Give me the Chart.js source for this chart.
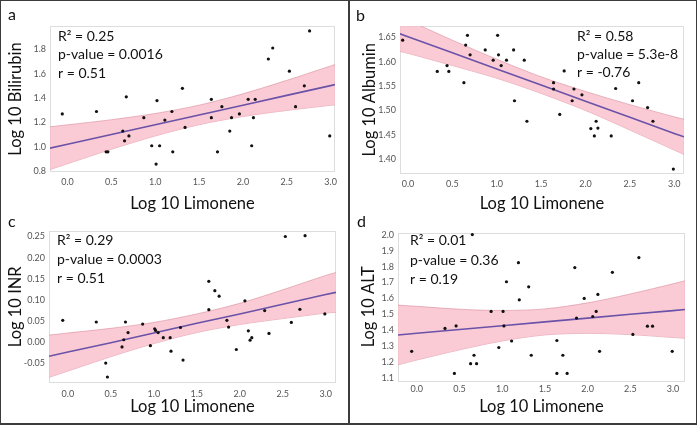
<!DOCTYPE html>
<html>
<head>
<meta charset="utf-8">
<script src="https://cdn.jsdelivr.net/npm/chart.js@4.4.0/dist/chart.umd.min.js"></script>
<style>
  body { margin: 0; background: #fff; }
  #figure { position: relative; width: 697px; height: 425px; overflow: hidden; background: #fff; }
  #figure canvas { position: absolute; }
  .divider { position: absolute; left: 348px; top: 0; width: 2px; height: 425px; background: #3c3c3c; }
  .frame { position: absolute; left: 0; top: 0; width: 697px; height: 425px; box-sizing: border-box;
           border: 1px solid #3c3c3c; border-bottom-width: 2px; }
</style>
</head>
<body>
<div id="figure">
  <canvas id="panelA" width="349" height="222" style="left:0;top:0"></canvas>
  <canvas id="panelB" width="348" height="222" style="left:349px;top:0"></canvas>
  <canvas id="panelC" width="349" height="213" style="left:0;top:212px"></canvas>
  <canvas id="panelD" width="348" height="213" style="left:349px;top:212px"></canvas>
  <div class="divider"></div>
  <div class="frame"></div>
</div>
<script>
// log10 limonene, shared by all four panels
const limonene = [-0.06, 0.33, 0.44, 0.46, 0.63, 0.65, 0.67, 0.70, 0.87, 0.96, 1.01, 1.02,
  1.05, 1.11, 1.19, 1.20, 1.31, 1.34, 1.64, 1.64, 1.71, 1.76, 1.85, 1.87,
  1.96, 2.06, 2.10, 2.12, 2.14, 2.29, 2.34, 2.53, 2.60, 2.70, 2.76, 2.99];

const bilirubin = [1.27, 1.29, 0.96, 0.96, 1.13, 1.05, 1.41, 1.09, 1.24, 1.01, 0.86, 1.38,
  1.01, 1.22, 1.29, 0.96, 1.48, 1.16, 1.39, 1.24, 0.96, 1.33, 1.13, 1.24,
  1.27, 1.39, 1.01, 1.24, 1.39, 1.72, 1.81, 1.62, 1.33, 1.50, 1.95, 1.09];

const albumin = [1.644, 1.580, 1.592, 1.580, 1.557, 1.634, 1.654, 1.614, 1.624, 1.603, 1.654, 1.614,
  1.592, 1.603, 1.624, 1.520, 1.603, 1.478, 1.557, 1.544, 1.492, 1.581, 1.520, 1.544,
  1.532, 1.463, 1.448, 1.478, 1.464, 1.448, 1.545, 1.520, 1.557, 1.506, 1.478, 1.380];

const inr = [0.052, 0.048, -0.049, -0.082, -0.011, 0.006, 0.048, 0.023, 0.043, -0.008, 0.032, 0.028,
  0.023, 0.011, 0.011, -0.021, 0.035, -0.042, 0.144, 0.077, 0.122, 0.109, 0.052, 0.036,
  -0.017, 0.098, 0.027, 0.005, 0.011, 0.075, 0.021, 0.250, 0.047, 0.078, 0.252, 0.067];

// one sample has no ALT value
const alt = [1.267, 1.411, 1.128, 1.427, 1.189, 2.002, 1.242, 1.189, 1.518, 1.291, 1.518, 1.427,
  1.705, 1.332, 1.825, 1.591, 1.673, 1.242, 1.335, 1.128, 1.242, 1.128, 1.794, 1.476,
  1.600, 1.486, 1.518, 1.625, 1.267, 1.764, null, 1.373, 1.857, 1.425, 1.425, 1.267];

// regression line and confidence band
const biliFitX = [-0.20, 0, 0.5, 1.0, 1.5, 2.0, 2.5, 3.0, 3.05];
const biliFit  = [0.990, 1.022, 1.102, 1.182, 1.262, 1.342, 1.422, 1.502, 1.510];
const biliHigh = [1.165, 1.181, 1.223, 1.274, 1.342, 1.435, 1.545, 1.663, 1.675];
const biliLow  = [0.815, 0.863, 0.981, 1.090, 1.182, 1.249, 1.299, 1.341, 1.345];

const albFitX = [-0.09, 0, 0.5, 1.0, 1.5, 2.0, 2.5, 3.0, 3.11];
const albFit  = [1.657, 1.651, 1.618, 1.585, 1.552, 1.519, 1.486, 1.453, 1.446];
const albHigh = [1.693, 1.685, 1.644, 1.605, 1.569, 1.539, 1.512, 1.487, 1.482];
const albLow  = [1.621, 1.617, 1.592, 1.566, 1.535, 1.500, 1.460, 1.419, 1.410];

const inrFitX = [-0.22, 0, 0.5, 1.0, 1.5, 2.0, 2.5, 3.0, 3.12];
const inrFit  = [-0.033, -0.023, -0.001, 0.022, 0.045, 0.067, 0.090, 0.113, 0.118];
const inrHigh = [0.017, 0.022, 0.033, 0.047, 0.067, 0.092, 0.124, 0.158, 0.165];
const inrLow  = [-0.083, -0.068, -0.034, -0.003, 0.023, 0.042, 0.056, 0.069, 0.071];

const altFitX = [-0.22, 0, 0.5, 1.0, 1.5, 2.0, 2.5, 3.0, 3.14];
const altFit  = [1.370, 1.381, 1.404, 1.428, 1.452, 1.476, 1.500, 1.523, 1.530];
const altHigh = [1.558, 1.550, 1.532, 1.524, 1.534, 1.572, 1.628, 1.692, 1.711];
const altLow  = [1.182, 1.212, 1.276, 1.332, 1.370, 1.380, 1.372, 1.354, 1.349];

// tick labels
const xTicks = [0, 0.5, 1.0, 1.5, 2.0, 2.5, 3.0];
const biliTicks = [0.8, 1.0, 1.2, 1.4, 1.6, 1.8];
const albTicks = [1.40, 1.45, 1.50, 1.55, 1.60, 1.65];
const inrTicks = [-0.05, 0.00, 0.05, 0.10, 0.15, 0.20, 0.25];
const altTicks = [1.1, 1.2, 1.3, 1.4, 1.5, 1.6, 1.7, 1.8, 1.9, 2.0];

const FONT = 'Lato, "Open Sans", sans-serif';

const panelDecor = {
    id: 'panelDecor',
    beforeDatasetsDraw(chart) {
        const { ctx, chartArea: a } = chart;
        ctx.save();
        ctx.strokeStyle = '#dddddd';
        ctx.lineWidth = 1;
        ctx.strokeRect(Math.round(a.left) + 0.5, Math.round(a.top) + 0.5,
            Math.round(a.width) - 1, Math.round(a.height) - 1);
        ctx.restore();
    },
    afterDraw(chart) {
        const p = chart.config.options.panel;
        const ctx = chart.ctx;
        ctx.save();
        ctx.fillStyle = '#111';
        ctx.textBaseline = 'alphabetic';
        ctx.font = `16px ${FONT}`;
        ctx.fillText(p.letter, p.letterX, p.letterY);
        ctx.font = `14px ${FONT}`;
        p.stats.forEach((line, i) => ctx.fillText(line, p.statsX, p.statsY[i]));
        ctx.restore();
    }
};

function toPoints(xs, ys) {
    return xs.map((x, i) => ({ x, y: ys[i] })).filter(d => d.y !== null);
}

function makePanel(id, p) {
    const bandLine = 'rgba(214, 140, 156, 0.75)';
    return new Chart(document.getElementById(id), {
        type: 'scatter',
        data: {
            datasets: [
                {
                    data: toPoints(limonene, p.y),
                    pointRadius: 1.6,
                    pointBackgroundColor: '#111',
                    pointBorderWidth: 0
                },
                {
                    data: toPoints(p.fitX, p.fit),
                    showLine: true,
                    borderColor: '#6a52a8',
                    borderWidth: 1.6,
                    pointRadius: 0
                },
                {
                    data: toPoints(p.fitX, p.high),
                    showLine: true,
                    tension: 0.3,
                    borderColor: bandLine,
                    borderWidth: 0.8,
                    pointRadius: 0,
                    backgroundColor: 'rgba(250, 188, 201, 0.78)',
                    fill: '+1'
                },
                {
                    data: toPoints(p.fitX, p.low),
                    showLine: true,
                    tension: 0.3,
                    borderColor: bandLine,
                    borderWidth: 0.8,
                    pointRadius: 0
                }
            ]
        },
        options: {
            responsive: false,
            animation: false,
            devicePixelRatio: 1,
            events: [],
            panel: p,
            layout: { padding: { left: 0, bottom: 0, top: p.area.t, right: p.W - p.area.r } },
            plugins: { legend: { display: false }, tooltip: { enabled: false } },
            scales: {
                x: {
                    type: 'linear',
                    min: p.xMin,
                    max: p.xMax,
                    afterBuildTicks: s => { s.ticks = xTicks.map(value => ({ value })); },
                    afterFit: s => { s.height = p.H - p.area.b; },
                    grid: { display: false, drawTicks: false },
                    border: { display: false },
                    ticks: {
                        font: { family: FONT, size: 9 },
                        color: '#555',
                        padding: p.xPad,
                        autoSkip: false,
                        maxRotation: 0,
                        callback: v => v.toFixed(1)
                    },
                    title: {
                        display: true,
                        text: 'Log 10 Limonene',
                        color: '#111',
                        font: { family: FONT, size: 16.5 },
                        padding: { top: 0, bottom: 8 }
                    }
                },
                y: {
                    type: 'linear',
                    min: p.yMin,
                    max: p.yMax,
                    afterBuildTicks: s => { s.ticks = p.yTicks.map(value => ({ value })); },
                    afterFit: s => { s.width = p.area.l; },
                    grid: { display: false, drawTicks: false },
                    border: { display: false },
                    ticks: {
                        font: { family: FONT, size: 9 },
                        color: '#555',
                        padding: 4,
                        autoSkip: false,
                        callback: v => v.toFixed(p.yDigits)
                    },
                    title: {
                        display: true,
                        text: p.yTitle,
                        color: '#111',
                        font: { family: FONT, size: 16.5 },
                        padding: { top: p.yTitlePad, bottom: 0 }
                    }
                }
            }
        },
        plugins: [panelDecor]
    });
}

makePanel('panelA', {
    W: 349, H: 222, area: { l: 50, r: 335, t: 26, b: 172 },
    xMin: -0.20, xMax: 3.05, yMin: 0.795, yMax: 1.99,
    y: bilirubin, fitX: biliFitX, fit: biliFit, high: biliHigh, low: biliLow,
    yTicks: biliTicks, yDigits: 1, yTitle: 'Log 10 Bilirubin', yTitlePad: 6, xPad: 5,
    letter: 'a', letterX: 8, letterY: 20,
    stats: ['R\u00b2 = 0.25', 'p-value = 0.0016', 'r = 0.51'], statsX: 58, statsY: [40.7, 59.3, 78.3]
});

makePanel('panelB', {
    W: 348, H: 222, area: { l: 51, r: 335, t: 26, b: 173.5 },
    xMin: -0.09, xMax: 3.11, yMin: 1.371, yMax: 1.673,
    y: albumin, fitX: albFitX, fit: albFit, high: albHigh, low: albLow,
    yTicks: albTicks, yDigits: 2, yTitle: 'Log 10 Albumin', yTitlePad: 11, xPad: 5,
    letter: 'b', letterX: 7, letterY: 21,
    stats: ['R\u00b2 = 0.58', 'p-value = 5.3e-8', 'r = -0.76'], statsX: 228, statsY: [40.7, 59.3, 77.3]
});

makePanel('panelC', {
    W: 349, H: 213, area: { l: 49, r: 336, t: 19, b: 170.5 },
    xMin: -0.22, xMax: 3.12, yMin: -0.095, yMax: 0.263,
    y: inr, fitX: inrFitX, fit: inrFit, high: inrHigh, low: inrLow,
    yTicks: inrTicks, yDigits: 2, yTitle: 'Log 10 INR', yTitlePad: 6, xPad: 6,
    letter: 'c', letterX: 8, letterY: 15,
    stats: ['R\u00b2 = 0.29', 'p-value = 0.0003', 'r = 0.51'], statsX: 57, statsY: [32.7, 52.3, 71]
});

makePanel('panelD', {
    W: 348, H: 213, area: { l: 49, r: 336, t: 20.5, b: 169 },
    xMin: -0.22, xMax: 3.14, yMin: 1.08, yMax: 2.015,
    y: alt, fitX: altFitX, fit: altFit, high: altHigh, low: altLow,
    yTicks: altTicks, yDigits: 1, yTitle: 'Log 10 ALT', yTitlePad: 10, xPad: 3,
    letter: 'd', letterX: 8, letterY: 15,
    stats: ['R\u00b2 = 0.01', 'p-value = 0.36', 'r = 0.19'], statsX: 61, statsY: [33.3, 53.3, 71.7]
});
</script>
</body>
</html>
